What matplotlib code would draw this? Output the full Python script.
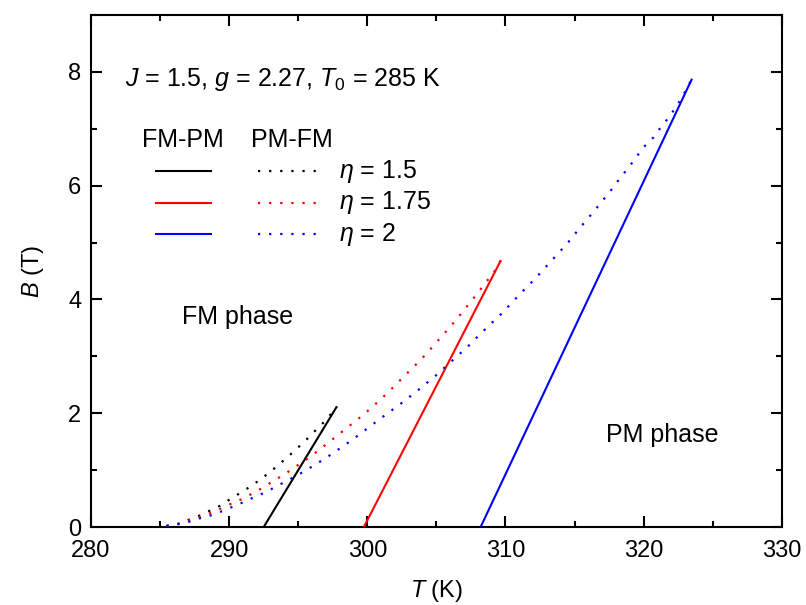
import matplotlib
matplotlib.use("Agg")
import matplotlib.pyplot as plt
from matplotlib.ticker import MultipleLocator

plt.rcParams['font.family'] = ['Liberation Sans', 'DejaVu Sans']
plt.rcParams['mathtext.fontset'] = 'custom'
plt.rcParams['mathtext.rm'] = 'Liberation Sans'
plt.rcParams['mathtext.it'] = 'Liberation Sans:italic'

# FM -> PM transition lines (solid)
T_fp_15 = [292.5, 297.8]
B_fp_15 = [0.0, 2.12]
T_fp_175 = [299.75, 309.67]
B_fp_175 = [0.0, 4.69]
T_fp_2 = [308.2, 323.5]
B_fp_2 = [0.0, 7.88]

# PM -> FM transition curves (dotted)
T_pf_15 = [285.0, 286.24, 286.99, 287.76, 288.54, 289.31, 290.08, 290.88, 291.65,
           292.45, 293.22, 293.99, 294.78, 295.56, 296.3, 297.05, 297.8]
B_pf_15 = [0.0, 0.05, 0.12, 0.19, 0.28, 0.37, 0.49, 0.61, 0.73,
           0.87, 1.02, 1.18, 1.35, 1.53, 1.71, 1.89, 2.12]
T_pf_175 = [285.0, 286.24, 286.97, 287.8, 288.58, 289.35, 290.15, 290.92, 291.69,
            292.49, 293.26, 294.03, 294.8, 295.6, 296.37, 297.17, 297.94, 298.71,
            299.54, 300.31, 301.08, 301.85, 302.62, 303.37, 304.09, 304.77, 305.42,
            306.07, 306.72, 307.35, 307.98, 308.58, 309.16, 309.67]
B_pf_175 = [0.0, 0.05, 0.11, 0.17, 0.24, 0.32, 0.41, 0.49, 0.59,
            0.70, 0.82, 0.93, 1.06, 1.19, 1.33, 1.48, 1.63, 1.78,
            1.94, 2.10, 2.27, 2.45, 2.64, 2.82, 3.0, 3.18, 3.36,
            3.54, 3.73, 3.92, 4.11, 4.30, 4.48, 4.69]
T_pf_2 = [285.0, 286.29, 287.06, 287.83, 288.61, 289.4, 290.2, 290.97, 291.77,
          292.54, 293.31, 294.08, 294.86, 295.65, 296.45, 297.22, 298.0, 298.77,
          299.56, 300.31, 301.08, 301.87, 302.65, 303.44, 304.24, 305.04, 305.81,
          306.58, 307.35, 308.12, 308.89, 309.67, 310.41, 311.14, 311.84, 312.54,
          313.21, 313.89, 314.56, 315.19, 315.81, 316.44, 317.07, 317.67, 318.25,
          318.85, 319.43, 320.01, 320.72, 321.19, 321.75, 322.31, 322.8, 323.5]
B_pf_2 = [0.0, 0.05, 0.09, 0.15, 0.20, 0.27, 0.35, 0.43, 0.52,
          0.60, 0.70, 0.80, 0.90, 1.01, 1.13, 1.25, 1.38, 1.51,
          1.65, 1.79, 1.93, 2.07, 2.21, 2.36, 2.52, 2.68, 2.85,
          3.02, 3.19, 3.38, 3.56, 3.74, 3.93, 4.12, 4.29, 4.47,
          4.65, 4.83, 5.01, 5.20, 5.38, 5.56, 5.75, 5.93, 6.12,
          6.30, 6.49, 6.68, 6.85, 7.01, 7.18, 7.37, 7.56, 7.88]

colors = ['black', '#ff0000', '#0000ff']
eta_labels = [r'$\eta$ = 1.5', r'$\eta$ = 1.75', r'$\eta$ = 2']

fig = plt.figure(figsize=(8.06, 6.05), dpi=100)
ax = fig.add_axes([0.1129, 0.1289, 0.8571, 0.8463])

solid = [(T_fp_15, B_fp_15), (T_fp_175, B_fp_175), (T_fp_2, B_fp_2)]
dotted = [(T_pf_15, B_pf_15), (T_pf_175, B_pf_175), (T_pf_2, B_pf_2)]
dot_style = (2.1, (1, 4))
lw = 1.5

for (t, b), c in zip(solid, colors):
    ax.plot(t, b, color=c, lw=lw, solid_capstyle='butt', zorder=3)
for (t, b), c in zip(dotted, colors):
    ax.plot(t, b, color=c, lw=1.6, linestyle=dot_style, zorder=3)

ax.set_xlim(280, 330)
ax.set_ylim(0, 9)
ax.xaxis.set_major_locator(MultipleLocator(10))
ax.xaxis.set_minor_locator(MultipleLocator(5))
ax.yaxis.set_major_locator(MultipleLocator(2))
ax.yaxis.set_minor_locator(MultipleLocator(1))
ax.tick_params(which='both', direction='in', top=True, right=True, width=1.5,
               labelsize=17)
ax.tick_params(which='major', length=8, pad=7)
ax.tick_params(which='minor', length=4.3)
ax.tick_params(axis='x', which='major', pad=9)
for s in ax.spines.values():
    s.set_linewidth(1.5)

ax.set_xlabel(r'$T$ (K)', fontsize=17, labelpad=12)
ax.set_ylabel(r'$B$ (T)', fontsize=17, labelpad=16)

fs = 18
ax.text(282.45, 7.86, r'$J$ = 1.5, $g$ = 2.27, $T_{\mathit{0}}$ = 285 K',
        fontsize=fs, va='center', ha='left')
ax.text(286.62, 6.80, 'FM-PM', fontsize=fs, va='center', ha='center')
ax.text(294.54, 6.80, 'PM-FM', fontsize=fs, va='center', ha='center')

leg_y = [6.25, 5.70, 5.15]
for y, c, lab in zip(leg_y, colors, eta_labels):
    ax.plot([284.65, 288.75], [y, y], color=c, lw=lw, solid_capstyle='butt')
    ax.plot([292.1, 296.3], [y, y], color=c, lw=1.6, linestyle=(0, (1, 4)))
    ax.text(297.95, y, lab, fontsize=fs, va='center', ha='left')

ax.text(286.6, 3.70, 'FM phase', fontsize=fs, va='center', ha='left')
ax.text(317.3, 1.61, 'PM phase', fontsize=fs, va='center', ha='left')

fig.savefig('out.png', dpi=100)
